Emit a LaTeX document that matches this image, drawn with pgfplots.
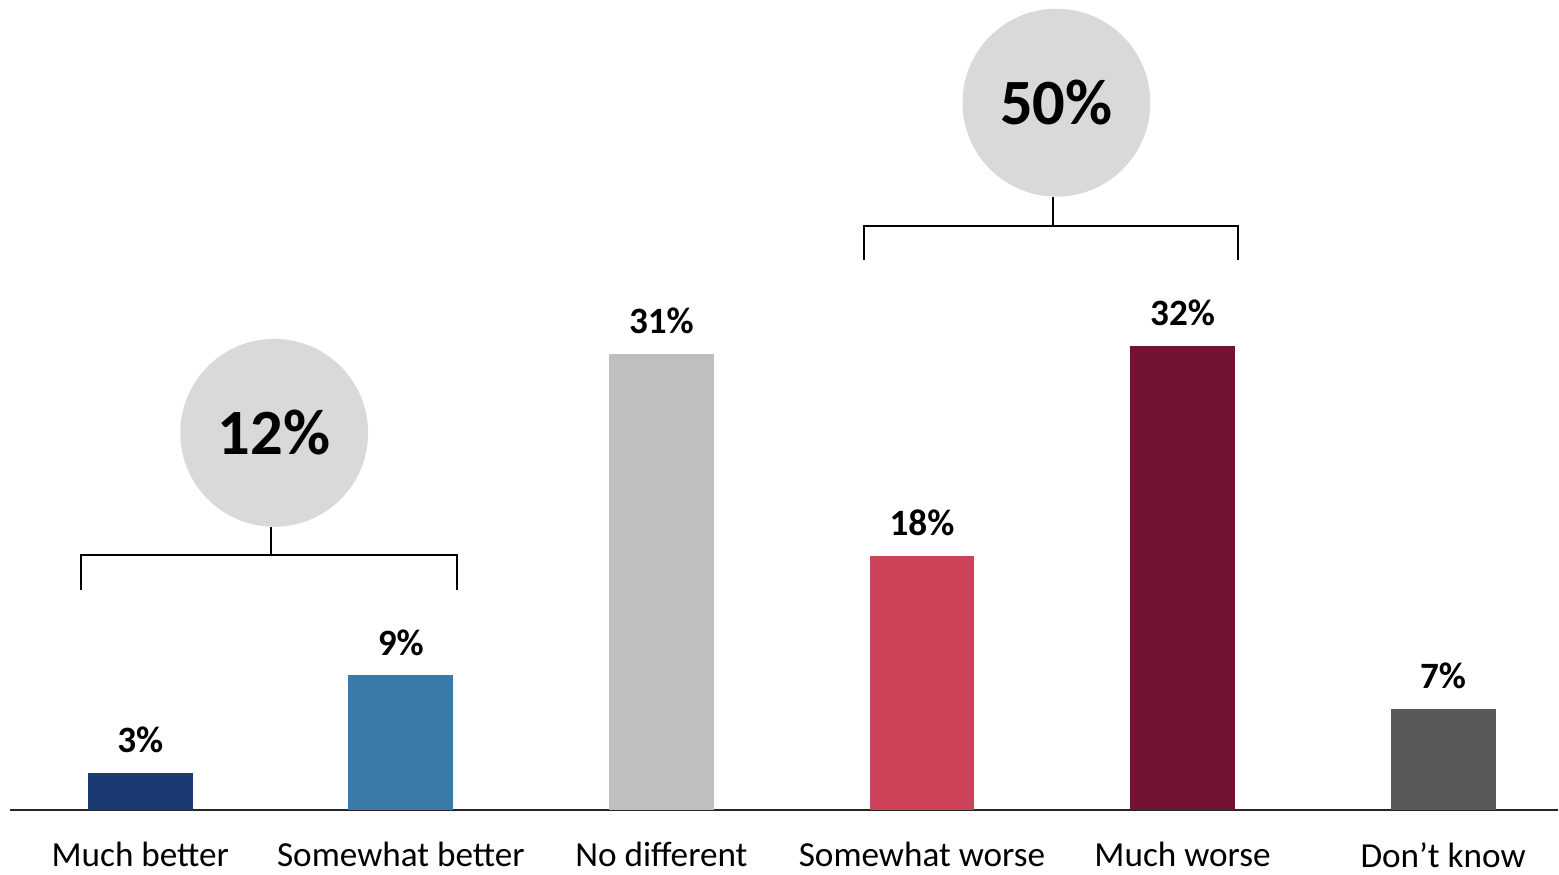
\documentclass[border=0pt]{standalone}
\usepackage{fontspec}
\setmainfont{Carlito}
\usepackage{pgfplots}
\pgfplotsset{compat=1.18}

\definecolor{cMuchBetter}{HTML}{1B3A73}
\definecolor{cSomeBetter}{HTML}{3A7AA8}
\definecolor{cNoDiff}{HTML}{BFBFBF}
\definecolor{cSomeWorse}{HTML}{CC435A}
\definecolor{cMuchWorse}{HTML}{721431}
\definecolor{cDontKnow}{HTML}{595959}
\definecolor{circfill}{HTML}{D9D9D9}

\begin{document}
\begin{tikzpicture}
\begin{axis}[
  scale only axis,
  width=774.5pt, height=405.5pt,
  xmin=-0.5, xmax=5.441,
  ymin=0, ymax=55.8,
  axis x line*=bottom,
  axis y line=none,
  x axis line style={line width=1pt, draw=black!85, -},
  xtick={0,1,2,3,4,5},
  xticklabels={Much better, Somewhat better, No different, Somewhat worse, Much worse, Don’t know},
  major tick length=0pt,
  xticklabel style={font=\fontsize{17.6}{20}\selectfont, yshift=-12.5pt},
  ybar, bar width=52.5pt, bar shift=0pt,
  /pgf/number format/assume math mode=true,
  /pgf/number format/fixed, /pgf/number format/precision=0,
  nodes near coords={\pgfmathprintnumber{\pgfplotspointmeta}\%},
  every node near coord/.append style={font=\fontsize{18.6}{22}\selectfont\bfseries, yshift=6.5pt, black},
  clip=false,
]
% bar heights; labels are the rounded values
\addplot[fill=cMuchBetter, draw=none] coordinates {(0,2.6)};
\addplot[fill=cSomeBetter, draw=none] coordinates {(1,9.3)};
\addplot[fill=cNoDiff, draw=none] coordinates {(2,31.45)};
\addplot[fill=cSomeWorse, draw=none] coordinates {(3,17.55)};
\addplot[fill=cMuchWorse, draw=none] coordinates {(4,32.0)};
\addplot[fill=cDontKnow, draw=none] coordinates {(5,7.02)};

% bracket and bubble: much + somewhat better
\draw[line width=1pt] (axis cs:-0.226,15.21) -- (axis cs:-0.226,17.62) -- (axis cs:1.216,17.62) -- (axis cs:1.216,15.21);
\draw[line width=1pt] (axis cs:0.502,17.62) -- (axis cs:0.502,19.55);
\fill[circfill] (axis cs:0.514,26.0) circle[radius=47pt];
\node[font=\fontsize{32.3}{38}\selectfont\bfseries] at (axis cs:0.514,26.0) {12\%};

% bracket and bubble: somewhat + much worse
\draw[line width=1pt] (axis cs:2.776,37.92) -- (axis cs:2.776,40.26) -- (axis cs:4.214,40.26) -- (axis cs:4.214,37.92);
\draw[line width=1pt] (axis cs:3.501,40.26) -- (axis cs:3.501,42.26);
\fill[circfill] (axis cs:3.516,48.73) circle[radius=47pt];
\node[font=\fontsize{32.3}{38}\selectfont\bfseries] at (axis cs:3.516,48.73) {50\%};

\path (rel axis cs:0,0) ++(-5pt,-31pt);
\path (rel axis cs:1,1);
\end{axis}
\end{tikzpicture}
\end{document}
